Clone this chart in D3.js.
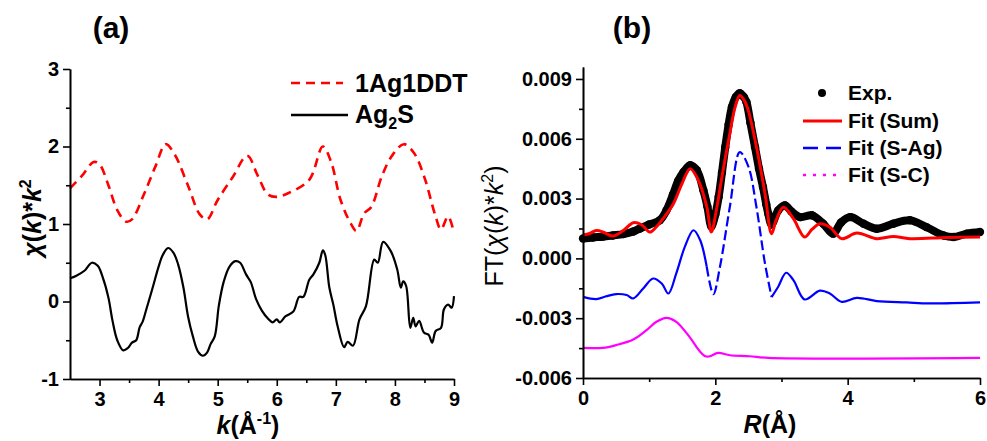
<!DOCTYPE html>
<html>
<head>
<meta charset="utf-8">
<script src="https://cdn.jsdelivr.net/npm/d3@7"></script>
<style>
  body { margin: 0; background: #fff; }
  svg text { font-family: "Liberation Sans", Arial, sans-serif; font-weight: bold; fill: #000; }
</style>
</head>
<body>
<div id="chart"></div>
<script>
// ---- panel (a): chi(k)*k^2 ----
var ddtK   = [2.50, 2.70, 2.90, 3.00, 3.15, 3.30, 3.45, 3.55, 3.75, 3.95, 4.12, 4.27, 4.50, 4.70, 4.82, 5.00, 5.25, 5.50, 5.68, 5.85, 6.00, 6.20, 6.55, 6.78, 6.92, 7.08, 7.25, 7.35, 7.48, 7.60, 7.78, 7.95, 8.15, 8.32, 8.50, 8.68, 8.78, 8.90, 9.00];
var ddtChi = [1.46, 1.62, 1.80, 1.77, 1.50, 1.18, 1.03, 1.06, 1.38, 1.75, 2.03, 1.90, 1.49, 1.12, 1.06, 1.31, 1.60, 1.88, 1.62, 1.38, 1.35, 1.40, 1.57, 2.00, 1.80, 1.31, 1.01, 0.91, 1.14, 1.22, 1.62, 1.88, 2.03, 1.92, 1.60, 1.12, 0.93, 1.10, 0.88];

var agsK   = [2.50, 2.60, 2.75, 2.87, 2.97, 3.05, 3.15, 3.22, 3.30, 3.40, 3.48, 3.55, 3.62, 3.68, 3.73, 3.80, 3.90, 4.00, 4.07, 4.16, 4.25, 4.33, 4.42, 4.50, 4.58, 4.67, 4.75, 4.82, 4.88, 4.95, 5.02, 5.10, 5.20, 5.30, 5.38, 5.48, 5.56, 5.65, 5.75, 5.85, 5.93, 6.00, 6.05, 6.15, 6.28, 6.38, 6.45, 6.55, 6.62, 6.72, 6.78, 6.82, 6.89, 6.96, 7.03, 7.14, 7.20, 7.29, 7.40, 7.51, 7.65, 7.71, 7.80, 7.93, 8.04, 8.10, 8.14, 8.19, 8.26, 8.31, 8.35, 8.41, 8.49, 8.57, 8.63, 8.69, 8.78, 8.83, 8.90, 8.96, 9.00];
var agsChi = [0.30, 0.33, 0.40, 0.50, 0.46, 0.32, 0.05, -0.25, -0.50, -0.63, -0.60, -0.53, -0.50, -0.33, -0.26, -0.08, 0.18, 0.45, 0.60, 0.69, 0.63, 0.48, 0.18, -0.20, -0.45, -0.65, -0.70, -0.66, -0.55, -0.45, -0.05, 0.25, 0.45, 0.52, 0.50, 0.35, 0.25, 0.03, -0.12, -0.22, -0.27, -0.23, -0.27, -0.19, -0.13, 0.06, 0.06, 0.28, 0.35, 0.50, 0.66, 0.60, 0.18, -0.05, -0.32, -0.59, -0.52, -0.57, -0.23, -0.06, 0.54, 0.50, 0.77, 0.65, 0.41, 0.18, 0.26, 0.20, -0.34, -0.21, -0.32, -0.25, -0.40, -0.43, -0.53, -0.38, -0.34, -0.10, -0.04, -0.08, 0.07];

var kTicks = [3, 4, 5, 6, 7, 8, 9];
var kMinor = [3.5, 4.5, 5.5, 6.5, 7.5, 8.5];
var chiTicks = [-1, 0, 1, 2, 3];
var chiMinor = [-0.5, 0.5, 1.5, 2.5];

// ---- panel (b): FT magnitude, values in units of 1e-3 ----
var expR  = [0.00, 0.15, 0.30, 0.45, 0.61, 0.76, 0.86, 1.00, 1.16, 1.26, 1.36, 1.44, 1.52, 1.62, 1.72, 1.82, 1.88, 1.94, 2.00, 2.05, 2.10, 2.15, 2.20, 2.25, 2.31, 2.37, 2.43, 2.47, 2.53, 2.60, 2.66, 2.72, 2.77, 2.80, 2.85, 2.95, 3.05, 3.15, 3.28, 3.46, 3.63, 3.78, 3.90, 4.04, 4.24, 4.44, 4.69, 4.94, 5.19, 5.45, 5.60, 5.80, 6.00];
var expFT = [1.00, 1.05, 1.09, 1.15, 1.22, 1.35, 1.50, 1.70, 1.91, 2.40, 3.20, 3.90, 4.33, 4.67, 4.42, 3.41, 2.60, 1.60, 2.20, 3.08, 4.30, 5.58, 6.70, 7.59, 8.10, 8.28, 8.10, 7.84, 6.80, 5.58, 4.50, 3.58, 2.70, 2.24, 1.70, 2.40, 2.66, 2.35, 2.07, 2.16, 1.74, 1.24, 1.80, 2.07, 1.74, 1.49, 1.74, 1.91, 1.57, 1.15, 1.07, 1.24, 1.32];

var sumR  = [0.00, 0.10, 0.20, 0.32, 0.45, 0.61, 0.76, 0.88, 1.01, 1.10, 1.20, 1.36, 1.49, 1.62, 1.74, 1.87, 1.94, 2.02, 2.10, 2.22, 2.30, 2.37, 2.44, 2.50, 2.62, 2.75, 2.85, 2.92, 3.03, 3.18, 3.35, 3.46, 3.58, 3.73, 3.91, 4.14, 4.44, 4.69, 4.94, 5.50, 6.00];
var sumFT = [1.17, 1.25, 1.40, 1.30, 1.12, 1.40, 1.79, 1.70, 1.32, 1.55, 1.95, 2.70, 3.70, 4.50, 3.94, 2.60, 1.32, 2.50, 4.10, 6.28, 7.60, 8.17, 7.90, 7.40, 5.61, 3.27, 1.24, 1.93, 2.57, 1.99, 1.07, 1.45, 1.74, 1.57, 0.99, 1.27, 0.99, 1.10, 0.99, 1.05, 1.07];

var sagR  = [0.00, 0.20, 0.35, 0.50, 0.66, 0.76, 0.91, 1.06, 1.19, 1.29, 1.41, 1.54, 1.67, 1.77, 1.87, 1.97, 2.07, 2.22, 2.37, 2.50, 2.62, 2.75, 2.85, 2.95, 3.07, 3.18, 3.35, 3.58, 3.73, 3.91, 4.14, 4.44, 4.89, 5.24, 6.00];
var sagFT = [-1.93, -2.04, -1.90, -1.79, -1.84, -2.01, -1.51, -1.01, -1.26, -1.76, -0.75, 0.59, 1.41, 0.92, -0.42, -1.80, -0.42, 2.60, 5.33, 4.60, 2.60, -0.25, -1.94, -1.42, -0.72, -1.09, -2.06, -1.62, -1.76, -2.18, -1.98, -2.14, -2.21, -2.26, -2.21];

var scR  = [0.00, 0.30, 0.50, 0.76, 0.96, 1.11, 1.26, 1.41, 1.61, 1.75, 1.85, 1.92, 2.04, 2.22, 2.52, 2.80, 6.00];
var scFT = [-4.49, -4.49, -4.35, -4.07, -3.60, -3.18, -2.98, -3.18, -3.94, -4.60, -4.91, -4.91, -4.74, -4.86, -4.91, -4.99, -4.99];

var rTicks = [0, 2, 4, 6];
var rMinor = [1, 3, 5];
var ftTicks = [-6, -3, 0, 3, 6, 9];
var ftMinor = [-4.5, -1.5, 1.5, 4.5, 7.5];

function zip(xs, ys) { return xs.map(function(x, i) { return [x, ys[i]]; }); }

var width = 987, height = 441;
var svg = d3.select("#chart").append("svg")
  .attr("width", width).attr("height", height);
svg.append("rect").attr("width", width).attr("height", height).attr("fill", "#fff");

// draws L-shaped axes with major + minor ticks
function drawAxes(g, x, y, xT, xM, yT, yM, yFmt) {
  var xr = x.range(), yr = y.range();
  g.append("g").attr("transform", "translate(0," + yr[0] + ")")
    .call(d3.axisBottom(x).tickValues(xM).tickSize(4).tickSizeOuter(0).tickFormat(""));
  g.append("g").attr("transform", "translate(0," + yr[0] + ")")
    .call(d3.axisBottom(x).tickValues(xT).tickSize(7).tickSizeOuter(0).tickPadding(6).tickFormat(String));
  g.append("g").attr("transform", "translate(" + xr[0] + ",0)")
    .call(d3.axisLeft(y).tickValues(yM).tickSize(4).tickSizeOuter(0).tickFormat(""));
  g.append("g").attr("transform", "translate(" + xr[0] + ",0)")
    .call(d3.axisLeft(y).tickValues(yT).tickSize(7).tickSizeOuter(0).tickPadding(4).tickFormat(yFmt));
  g.selectAll(".domain, .tick line").attr("stroke", "#000").attr("stroke-width", 1.6);
  g.selectAll(".tick text").attr("font-size", 20).attr("font-family", "Liberation Sans, Arial, sans-serif").attr("font-weight", "bold").attr("fill", "#000");
}

// ---- panel (a)
var xa = d3.scaleLinear().domain([2.5, 9]).range([70, 454]);
var ya = d3.scaleLinear().domain([-1, 3]).range([379, 69]);
var ga = svg.append("g");

var lineA = d3.line().x(function(d) { return xa(d[0]); }).y(function(d) { return ya(d[1]); })
  .curve(d3.curveCatmullRom.alpha(0.5));

ga.append("path").attr("d", lineA(zip(ddtK, ddtChi)))
  .attr("fill", "none").attr("stroke", "#ff0000").attr("stroke-width", 2.6).attr("stroke-dasharray", "9,6");
ga.append("path").attr("d", lineA(zip(agsK, agsChi)))
  .attr("fill", "none").attr("stroke", "#000").attr("stroke-width", 2.2);

drawAxes(ga, xa, ya, kTicks, kMinor, chiTicks, chiMinor, function(d) { return String(d); });

ga.append("text").attr("x", 111).attr("y", 38).attr("text-anchor", "middle").attr("font-size", 30).text("(a)");

var kl = ga.append("text").attr("x", 248).attr("y", 434).attr("text-anchor", "middle").attr("font-size", 25);
kl.append("tspan").attr("font-style", "italic").text("k");
kl.append("tspan").text("(Å");
kl.append("tspan").attr("font-size", 16).attr("dy", -10).text("-1");
kl.append("tspan").attr("dy", 10).text(")");

var yl = ga.append("text").attr("transform", "translate(41,218) rotate(-90)").attr("text-anchor", "middle").attr("font-size", 25);
yl.append("tspan").attr("font-style", "italic").text("χ");
yl.append("tspan").text("(");
yl.append("tspan").attr("font-style", "italic").text("k");
yl.append("tspan").text(")*");
yl.append("tspan").attr("font-style", "italic").text("k");
yl.append("tspan").attr("font-size", 16).attr("dy", -10).text("2");

// legend (a)
ga.append("line").attr("x1", 291).attr("x2", 343).attr("y1", 83).attr("y2", 83)
  .attr("stroke", "#ff0000").attr("stroke-width", 2.6).attr("stroke-dasharray", "9,6");
ga.append("text").attr("x", 355).attr("y", 92).attr("font-size", 25).text("1Ag1DDT");
ga.append("line").attr("x1", 291).attr("x2", 348).attr("y1", 115).attr("y2", 115)
  .attr("stroke", "#000").attr("stroke-width", 2.4);
var ag = ga.append("text").attr("x", 355).attr("y", 123).attr("font-size", 25);
ag.append("tspan").text("Ag");
ag.append("tspan").attr("font-size", 16).attr("dy", 6).text("2");
ag.append("tspan").attr("dy", -6).text("S");

// ---- panel (b)
var xb = d3.scaleLinear().domain([0, 6]).range([583, 980]);
var yb = d3.scaleLinear().domain([-6, 9.6]).range([378, 67]);
var gb = svg.append("g");

var lineB = d3.line().x(function(d) { return xb(d[0]); }).y(function(d) { return yb(d[1]); })
  .curve(d3.curveCatmullRom.alpha(0.5));

var expPts = zip(expR, expFT);
gb.append("path").attr("d", lineB(expPts))
  .attr("fill", "none").attr("stroke", "#000").attr("stroke-width", 8);
gb.selectAll("circle.exp").data(expPts).enter().append("circle").attr("class", "exp")
  .attr("cx", function(d) { return xb(d[0]); }).attr("cy", function(d) { return yb(d[1]); })
  .attr("r", 4.2).attr("fill", "#000");

gb.append("path").attr("d", lineB(zip(scR, scFT)))
  .attr("fill", "none").attr("stroke", "#ff00ff").attr("stroke-width", 2.2);

// S-Ag path: solid on the flat parts, dashed on the steep central peak
var sag = zip(sagR, sagFT);
gb.append("path").attr("d", lineB(sag.filter(function(d) { return d[0] <= 1.87; })))
  .attr("fill", "none").attr("stroke", "#0000ff").attr("stroke-width", 2.2);
gb.append("path").attr("d", lineB(sag.filter(function(d) { return d[0] >= 1.87 && d[0] <= 2.85; })))
  .attr("fill", "none").attr("stroke", "#0000ff").attr("stroke-width", 2.2).attr("stroke-dasharray", "10,4");
gb.append("path").attr("d", lineB(sag.filter(function(d) { return d[0] >= 2.85; })))
  .attr("fill", "none").attr("stroke", "#0000ff").attr("stroke-width", 2.2);

gb.append("path").attr("d", lineB(zip(sumR, sumFT)))
  .attr("fill", "none").attr("stroke", "#ff0000").attr("stroke-width", 3);

drawAxes(gb, xb, yb, rTicks, rMinor, ftTicks, ftMinor, function(d) { return (d / 1000).toFixed(3); });

gb.append("text").attr("x", 632).attr("y", 38).attr("text-anchor", "middle").attr("font-size", 30).text("(b)");

var rl = gb.append("text").attr("x", 770).attr("y", 433).attr("text-anchor", "middle").attr("font-size", 25);
rl.append("tspan").attr("font-style", "italic").text("R");
rl.append("tspan").text("(Å)");

var fl = gb.append("text").attr("transform", "translate(503,226) rotate(-90)").attr("text-anchor", "middle")
  .attr("font-size", 25).style("font-weight", "normal");
fl.append("tspan").text("FT(");
fl.append("tspan").attr("font-style", "italic").text("χ");
fl.append("tspan").text("(");
fl.append("tspan").attr("font-style", "italic").text("k");
fl.append("tspan").text(")*");
fl.append("tspan").attr("font-style", "italic").text("k");
fl.append("tspan").attr("font-size", 16).attr("dy", -10).text("2");
fl.append("tspan").attr("dy", 10).text(")");

// legend (b)
var legB = [
  { name: "Exp.", y: 93 },
  { name: "Fit (Sum)", y: 121, color: "#ff0000", w: 3, dash: null },
  { name: "Fit (S-Ag)", y: 148, color: "#0000ff", w: 2.4, dash: "15,8" },
  { name: "Fit (S-C)", y: 175, color: "#ff00ff", w: 2.4, dash: "3,7" }
];
legB.forEach(function(l) {
  if (l.color) {
    gb.append("line").attr("x1", 803).attr("x2", 842).attr("y1", l.y).attr("y2", l.y)
      .attr("stroke", l.color).attr("stroke-width", l.w).attr("stroke-dasharray", l.dash);
  } else {
    gb.append("circle").attr("cx", 822).attr("cy", l.y).attr("r", 4).attr("fill", "#000");
  }
  gb.append("text").attr("x", 848).attr("y", l.y + 7).attr("font-size", 21).text(l.name);
});
</script>
</body>
</html>
